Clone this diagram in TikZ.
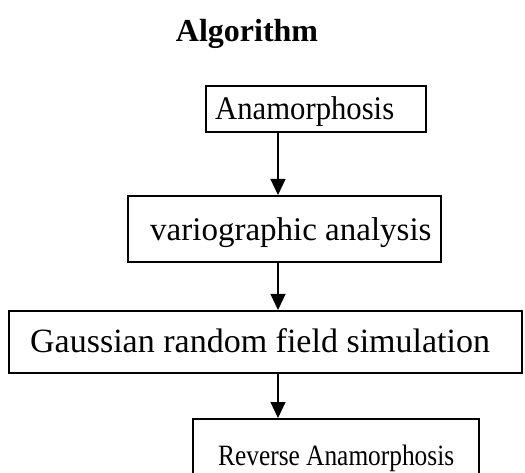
\documentclass[tikz,border=0pt]{standalone}
\usepackage{fontspec}
\setmainfont{Liberation Serif}
\newfontfamily\narrowa[FakeStretch=0.93]{Liberation Serif}
\newfontfamily\narrowb[FakeStretch=0.86]{Liberation Serif}
\usetikzlibrary{arrows.meta}
\begin{document}
\begin{tikzpicture}[x=1pt,y=-1pt,
 box/.style={draw, line width=1.6pt, inner sep=0pt, anchor=north west},
 lbl/.style={anchor=base west, inner sep=0pt},
 flow/.style={line width=1.2pt, -{Triangle[width=15pt,length=16pt]}}]
\clip (0,0) rectangle (525,473);
\useasboundingbox (0,0) rectangle (525,473);
\node[anchor=base, inner sep=0pt, font=\bfseries\fontsize{32}{38}\selectfont] (title) at (247,42) {Algorithm};
\node[box, minimum width=220pt, minimum height=46pt] (b1) at (205,85) {};
\node[box, minimum width=313pt, minimum height=66pt] (b2) at (127,195) {};
\node[box, minimum width=513pt, minimum height=62pt] (b3) at (8,310) {};
\node[box, minimum width=286pt, minimum height=80pt] (b4) at (192,418) {};
\node[lbl, font=\narrowa\fontsize{33}{40}\selectfont] (t1) at (215,120) {Anamorphosis};
\node[lbl, font=\fontsize{33}{40}\selectfont] (t2) at (150,241) {variographic analysis};
\node[lbl, font=\fontsize{34}{40}\selectfont] (t3) at (30,352) {Gaussian random field simulation};
\node[lbl, font=\narrowb\fontsize{29.5}{34}\selectfont] (t4) at (218,465) {Reverse Anamorphosis};
\coordinate (ax) at (278,0);
\draw[flow] (b1.south -| ax) -- (b2.north -| ax);
\draw[flow] (b2.south -| ax) -- (b3.north -| ax);
\draw[flow] (b3.south -| ax) -- (b4.north -| ax);
\end{tikzpicture}
\end{document}
